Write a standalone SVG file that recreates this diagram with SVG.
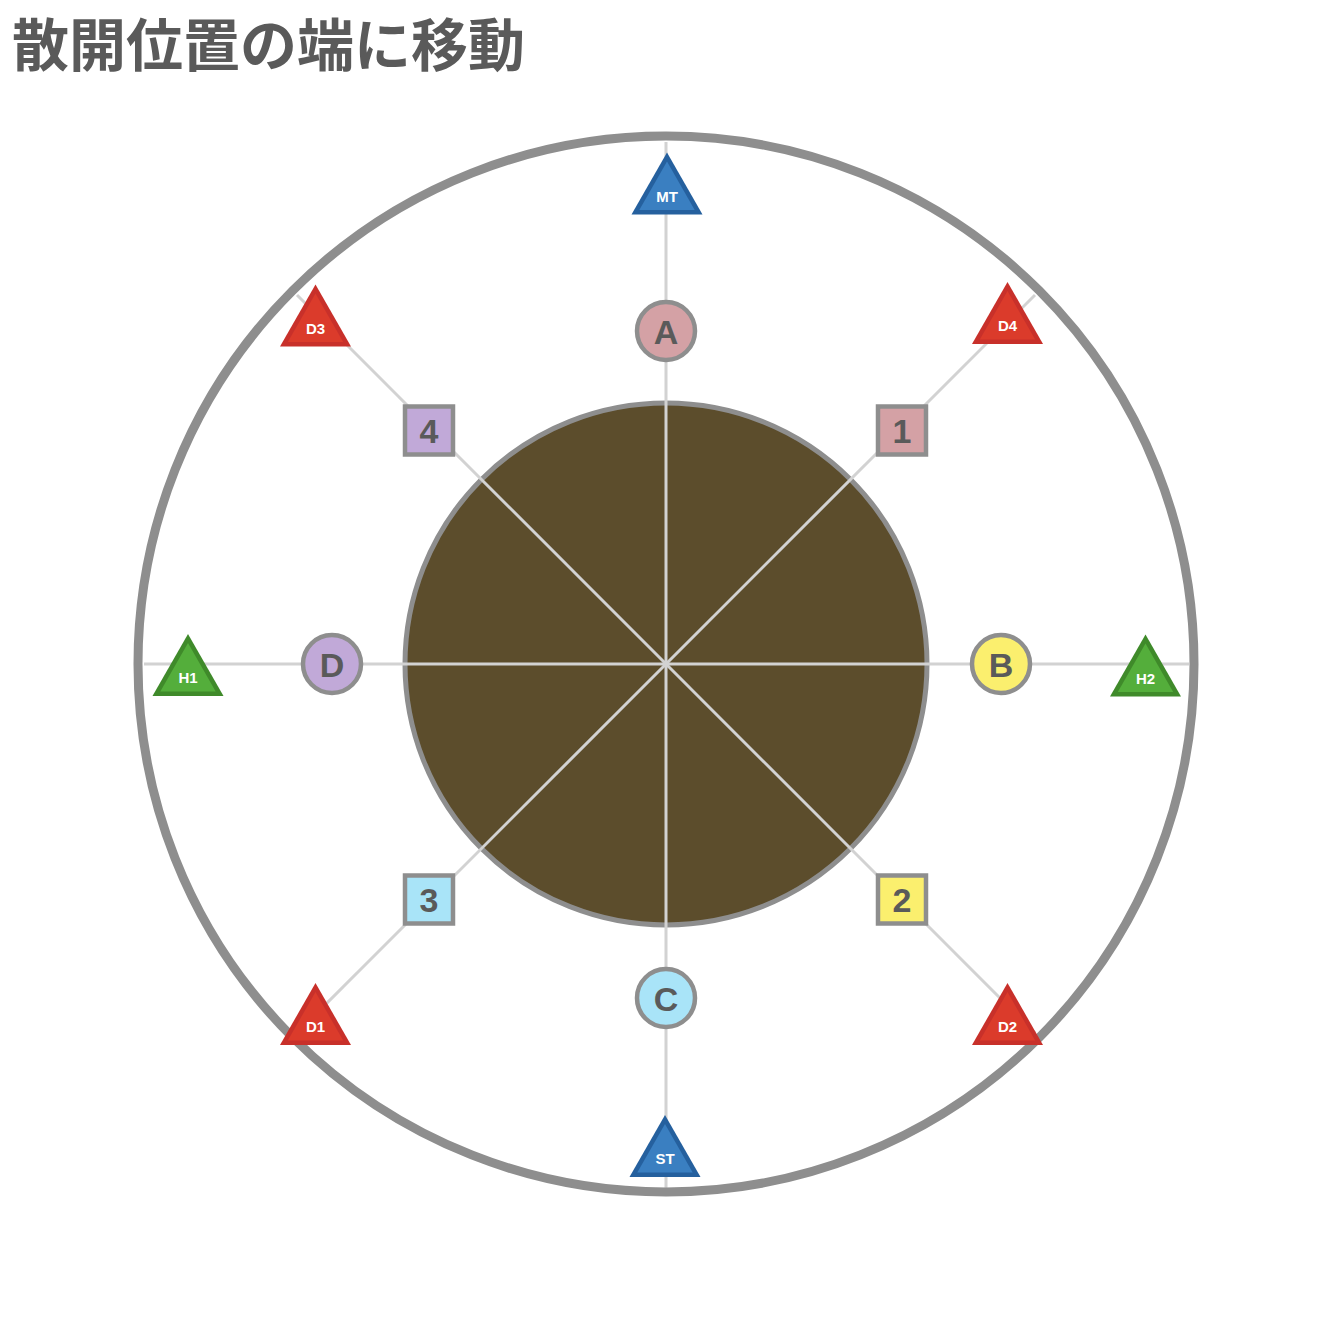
<svg xmlns="http://www.w3.org/2000/svg" width="1330" height="1330" viewBox="0 0 1330 1330">
<defs>
<style>
.title{font-family:"Noto Sans CJK JP","Noto Sans CJK SC",sans-serif;font-weight:700;font-size:57px;fill:#5a5a5a}
.ln{stroke:#d2d2d2;stroke-width:3;fill:none}
.mk{stroke:#8e8e8e;stroke-width:4.5}
.lbl{font-family:"Liberation Sans",Arial,sans-serif;font-weight:700;font-size:34px;fill:#5a5a5a;text-anchor:middle}
.tl{font-family:"Liberation Sans",Arial,sans-serif;font-weight:700;font-size:15px;fill:#ffffff;text-anchor:middle}
.pink{fill:#d4a1a5}.yel{fill:#fbef6e}.blu{fill:#a9e4f8}.pur{fill:#c1a9d8}
</style>
<g id="triBlue"><polygon points="0,-31 35.5,31 -35.5,31" fill="#25609e"/><polygon points="0,-22 27.7,26.5 -27.7,26.5" fill="#3a7fc1"/></g>
<g id="triRed"><polygon points="0,-31 35.5,31 -35.5,31" fill="#c8302a"/><polygon points="0,-22 27.7,26.5 -27.7,26.5" fill="#db3b2b"/></g>
<g id="triGreen"><polygon points="0,-31 35.5,31 -35.5,31" fill="#3f8a2a"/><polygon points="0,-22 27.7,26.5 -27.7,26.5" fill="#54ae3b"/></g>
</defs>
<rect width="1330" height="1330" fill="#ffffff"/>
<text class="title" x="12" y="66">散開位置の端に移動</text>
<g id="arena">
<circle cx="666" cy="664" r="261" fill="#5c4d2c" stroke="#8e8e8e" stroke-width="5"/>
</g>
<g id="connectors">
<line class="ln" x1="666" y1="142" x2="666" y2="1188"/>
<line class="ln" x1="144" y1="664" x2="1189" y2="664"/>
<line class="ln" x1="297" y1="295" x2="1035" y2="1033"/>
<line class="ln" x1="1035" y1="295" x2="297" y2="1033"/>
</g>
<g id="outer-ring">
<circle cx="666" cy="664" r="528" fill="none" stroke="#8e8e8e" stroke-width="9"/>
</g>
<g id="A"><circle class="mk pink" cx="666" cy="331" r="29"/><text class="lbl" x="666" y="343.5">A</text></g>
<g id="B"><circle class="mk yel" cx="1001" cy="664" r="29"/><text class="lbl" x="1001" y="676.5">B</text></g>
<g id="C"><circle class="mk blu" cx="666" cy="998" r="29"/><text class="lbl" x="666" y="1010.5">C</text></g>
<g id="D"><circle class="mk pur" cx="332" cy="664" r="29"/><text class="lbl" x="332" y="676.5">D</text></g>
<g id="sq1"><rect class="mk pink" x="878" y="406.5" width="48" height="48"/><text class="lbl" x="902" y="443">1</text></g>
<g id="sq2"><rect class="mk yel" x="878" y="875.5" width="48" height="48"/><text class="lbl" x="902" y="912">2</text></g>
<g id="sq3"><rect class="mk blu" x="405" y="875.5" width="48" height="48"/><text class="lbl" x="429" y="912">3</text></g>
<g id="sq4"><rect class="mk pur" x="405" y="406.5" width="48" height="48"/><text class="lbl" x="429" y="443">4</text></g>
<g id="MT"><use href="#triBlue" x="667" y="183.5"/><text class="tl" x="667" y="201.5">MT</text></g>
<g id="ST"><use href="#triBlue" x="665" y="1146"/><text class="tl" x="665" y="1164">ST</text></g>
<g id="H1"><use href="#triGreen" x="188" y="665"/><text class="tl" x="188" y="683">H1</text></g>
<g id="H2"><use href="#triGreen" x="1145.5" y="665.5"/><text class="tl" x="1145.5" y="683.5">H2</text></g>
<g id="D3"><use href="#triRed" x="315.5" y="315.5"/><text class="tl" x="315.5" y="333.5">D3</text></g>
<g id="D4"><use href="#triRed" x="1007.5" y="313"/><text class="tl" x="1007.5" y="331">D4</text></g>
<g id="D1"><use href="#triRed" x="315.5" y="1014"/><text class="tl" x="315.5" y="1032">D1</text></g>
<g id="D2"><use href="#triRed" x="1007.5" y="1014"/><text class="tl" x="1007.5" y="1032">D2</text></g>
</svg>
